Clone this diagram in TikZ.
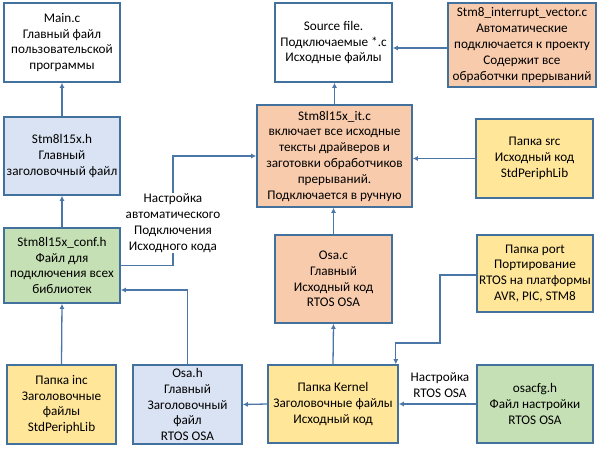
\documentclass[tikz,border=0pt]{standalone}
\usepackage{fontspec}
\setmainfont{Carlito}
\usetikzlibrary{positioning,calc,arrows.meta}
\definecolor{cEdge}{HTML}{41719C}
\definecolor{cLine}{HTML}{4A76A8}
\definecolor{cBlue}{HTML}{DAE3F3}
\definecolor{cGreen}{HTML}{C5E0B4}
\definecolor{cSalmon}{HTML}{F8CBAD}
\definecolor{cYellow}{HTML}{FFE699}
\tikzset{
  bx/.style={draw=cEdge,line width=1.6pt,fill=white,align=center,inner sep=0pt,font=\fontsize{13.2}{15.8}\selectfont},
  bxblue/.style={bx,fill=cBlue},
  bxgreen/.style={bx,fill=cGreen},
  bxsalm/.style={bx,fill=cSalmon},
  bxyel/.style={bx,fill=cYellow},
  lbl/.style={align=center,inner sep=1pt,font=\fontsize{13.2}{15.8}\selectfont},
  pin/.style={-{Latex[length=5pt,width=5pt]},line width=1.3pt,cLine},
  wire/.style={line width=1.3pt,cLine},
}
\begin{document}
\begin{tikzpicture}[x=1pt,y=-1pt]
  \useasboundingbox (0,0) rectangle (597,450);
  % left column
  \node[bx,minimum width=116pt,minimum height=79pt] (main) at (62,42.5) {Main.c\\Главный файл\\пользовательской\\программы};
  \node[bxblue,minimum width=116pt,minimum height=78pt] (hdr) at (62,156) {Stm8l15x.h\\Главный\\заголовочный файл};
  \node[bxgreen,minimum width=116pt,minimum height=75pt] (conf) at (62,265.5) {Stm8l15x\_conf.h\\Файл для\\подключения всех\\библиотек};
  \node[bxyel,minimum width=109pt,minimum height=79pt] (inc) at (61.5,404.5) {Папка inc\\Заголовочные\\файлы\\StdPeriphLib};
  \node[bxblue,minimum width=109pt,minimum height=79pt] (osah) at (187.5,404.5) {Osa.h\\Главный\\Заголовочный\\файл\\RTOS OSA};
  % middle column
  \node[bx,minimum width=117pt,minimum height=79pt] (srcf) at (333.5,42.5) {Source file.\\Подключаемые *.c\\Исходные файлы};
  \node[bxsalm,minimum width=155pt,minimum height=102pt] (itc) at (334.5,156) {Stm8l15x\_it.c\\включает все исходные\\тексты драйверов и\\заготовки обработчиков\\прерываний.\\Подключается в ручную};
  \node[bxsalm,minimum width=117pt,minimum height=88pt] (osac) at (333.5,279) {Osa.c\\Главный\\Исходный код\\RTOS OSA};
  \node[bxyel,minimum width=130pt,minimum height=78pt] (kern) at (333,404) {Папка Kernel\\Заголовочные файлы\\Исходный код};
  % right column
  \node[bxsalm,minimum width=148pt,minimum height=84pt] (vec) at (522,45) {Stm8\_interrupt\_vector.c\\Автоматические\\подключается к проекту\\Содержит все\\обработчки прерываний};
  \node[bxyel,minimum width=117pt,minimum height=79pt] (src) at (534.5,158.5) {Папка src\\Исходный код\\StdPeriphLib};
  \node[bxyel,minimum width=116pt,minimum height=77pt] (port) at (535,273.5) {Папка port\\Портирование\\RTOS на платформы\\AVR, PIC, STM8};
  \node[bxgreen,minimum width=116pt,minimum height=78pt] (cfg) at (535,404) {osacfg.h\\Файл настройки\\RTOS OSA};
  % labels
  \node[lbl] (auto) at (173,223) {Настройка\\автоматического\\Подключения\\Исходного кода};
  \node[lbl] (tune) at (440,385) {Настройка\\RTOS OSA};
  \coordinate (bend) at (440,343);
  % connectors
  \draw[pin] (hdr.north) -- (main.south);
  \draw[pin] (conf.north) -- (hdr.south);
  \draw[pin] (inc.north) -- (conf.south);
  \draw[pin] (osah.north) |- ([yshift=-24.5pt]conf.east);
  \draw[wire] (conf.east) -| (auto.south);
  \draw[pin] (auto.north) |- (itc.west);
  \draw[pin] (kern.west) -- (osah.east);
  \draw[pin] (cfg.west) -- (kern.east);
  \draw[pin] (kern.north) -- (osac.south);
  \draw[pin] (osac.north) -- (osac.north |- itc.south);
  \draw[pin] (itc.north) -- (itc.north |- srcf.south);
  \draw[pin] (src.west) -- (src.west -| itc.east);
  \draw[pin] ([yshift=-3pt]vec.west) -- ([yshift=-3pt]vec.west -| srcf.east);
  \draw[pin] ([yshift=-1.5pt]port.west) -| (bend) -| ([xshift=-3pt]kern.north east);
\end{tikzpicture}
\end{document}
